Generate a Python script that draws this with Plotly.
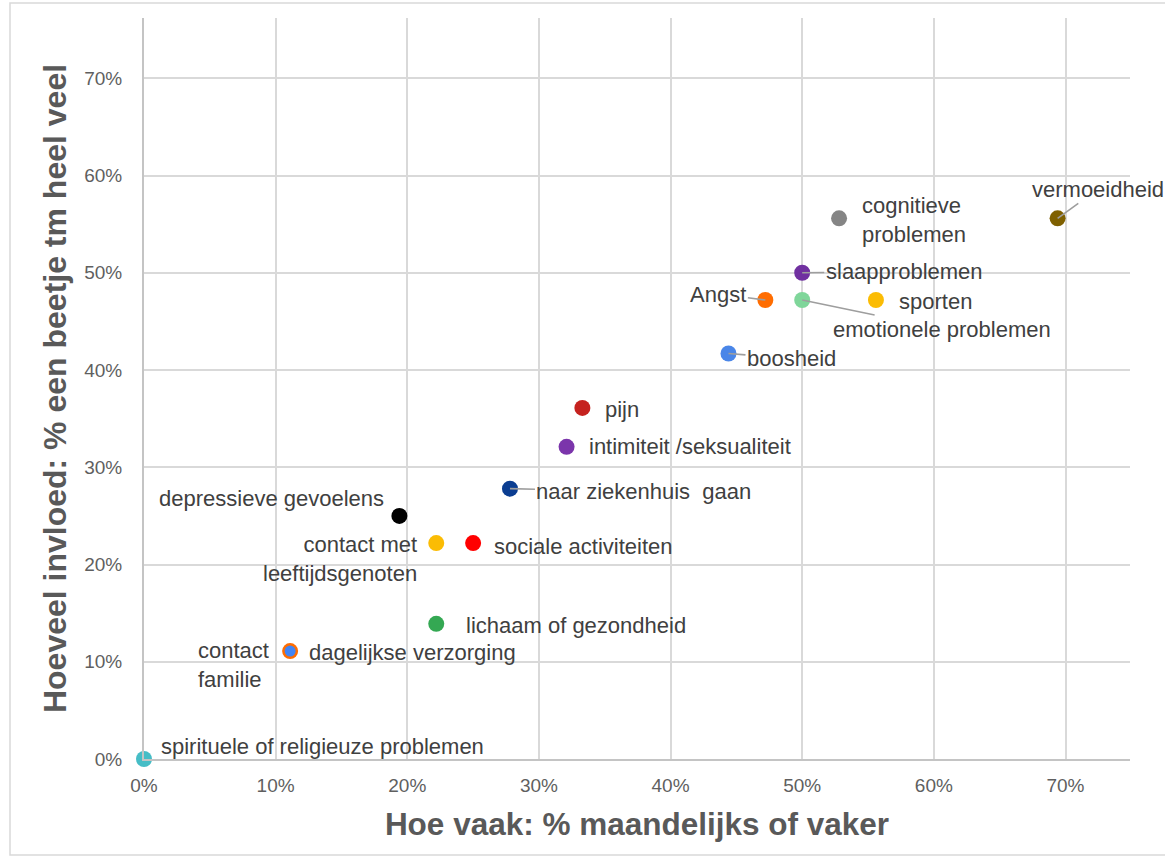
import plotly.graph_objects as go

# ---- data ----
labels = [
    "vermoeidheid", "cognitieve<br>problemen", "slaapproblemen", "Angst",
    "emotionele problemen", "sporten", "boosheid", "pijn",
    "intimiteit /seksualiteit", "naar ziekenhuis  gaan", "depressieve gevoelens",
    "contact met<br>leeftijdsgenoten", "sociale activiteiten", "lichaam of gezondheid",
    "contact<br>familie", "dagelijkse verzorging", "spirituele of religieuze problemen",
]
freq = [0.694, 0.528, 0.500, 0.472, 0.500, 0.556, 0.444, 0.333, 0.321, 0.278,
        0.194, 0.222, 0.250, 0.222, 0.111, 0.111, 0.000]
impact = [0.556, 0.556, 0.500, 0.472, 0.472, 0.472, 0.417, 0.361, 0.321, 0.278,
          0.250, 0.222, 0.222, 0.139, 0.111, 0.111, 0.000]
colors = ["#7f6000", "#858585", "#7030a0", "#ff6d01", "#7fd69a", "#fbbc04",
          "#4a86e8", "#c5221f", "#7b35ab", "#0b3d91", "#000000", "#fbbc04",
          "#ff0000", "#34a853", "#ff6d01", "#4285f4", "#46bdc6"]

# ---- label placement (style) ----
# ("arrow", ax, ay) or ("text", xanchor, xshift, yshift, align)
placement = [
    ("arrow", 40, -29),
    ("text", "left", 21, -2, "left"),
    ("arrow", 102, -1),
    ("arrow", -47, -6),
    ("arrow", 140, 29),
    ("text", "left", 21, -1, "left"),
    ("arrow", 63, 5),
    ("text", "left", 21, -2, "left"),
    ("text", "left", 20, 0, "left"),
    ("arrow", 134, 3),
    ("text", "right", -13, 17, "right"),
    ("text", "right", -17, -16, "right"),
    ("text", "left", 19, -3, "left"),
    ("text", "left", 28, -2, "left"),
    ("text", "right", -19, -14, "left"),
    ("text", "left", 17, -1, "left"),
    ("text", "left", 15, 13, "left"),
]
sizes = [16] * len(labels)
sizes[labels.index("dagelijkse verzorging")] = 11

FONT = "Arial, Liberation Sans, sans-serif"
LABEL_FONT = dict(family=FONT, size=22, color="#404040")

fig = go.Figure()
fig.add_trace(go.Scatter(
    x=freq, y=impact, mode="markers",
    marker=dict(color=colors, size=sizes, opacity=1, line=dict(width=0)),
    cliponaxis=False, hoverinfo="text", hovertext=labels, showlegend=False,
))

annotations = []
for lab, xv, yv, p in zip(labels, freq, impact, placement):
    if p[0] == "arrow":
        annotations.append(dict(
            x=xv, y=yv, text=lab, showarrow=True, arrowhead=0, ax=p[1], ay=p[2],
            arrowcolor="#9e9e9e", arrowwidth=1.6, standoff=0, font=LABEL_FONT,
        ))
    else:
        annotations.append(dict(
            x=xv, y=yv, text=lab, showarrow=False, xanchor=p[1], yanchor="middle",
            xshift=p[2], yshift=p[3], align=p[4], font=LABEL_FONT,
        ))

fig.update_layout(
    width=1165, height=863, autosize=False,
    margin=dict(l=144, r=35, t=18, b=104),
    paper_bgcolor="white", plot_bgcolor="white",
    font=dict(family=FONT),
    annotations=annotations,
    shapes=[dict(type="rect", xref="paper", yref="paper",
                 x0=-0.1359, x1=1.05, y0=-0.1296, y1=1.0202,
                 line=dict(color="#d9d9d9", width=1.5), layer="below")],
)
fig.update_xaxes(
    range=[0, 0.749], dtick=0.1, tickformat=".0%",
    showgrid=True, gridcolor="#d9d9d9", gridwidth=2,
    showline=True, linecolor="#c4c4c4", linewidth=2, zeroline=False,
    tickfont=dict(family=FONT, size=19, color="#5f5f5f"), ticklabelstandoff=8,
    title=dict(text="<b>Hoe vaak: % maandelijks of vaker</b>",
               font=dict(family=FONT, size=31.5, color="#595959"), standoff=18),
)
fig.update_yaxes(
    range=[0, 0.762], dtick=0.1, tickformat=".0%",
    showgrid=True, gridcolor="#d9d9d9", gridwidth=2,
    showline=True, linecolor="#c4c4c4", linewidth=2, zeroline=False,
    tickfont=dict(family=FONT, size=19, color="#5f5f5f"), ticklabelstandoff=16,
    title=dict(text="<b>Hoeveel invloed: % een beetje tm heel veel</b>",
               font=dict(family=FONT, size=32, color="#595959"), standoff=8),
)

fig.write_html("out.html", config={"displayModeBar": False},
               post_script="document.body.style.margin='0';")
